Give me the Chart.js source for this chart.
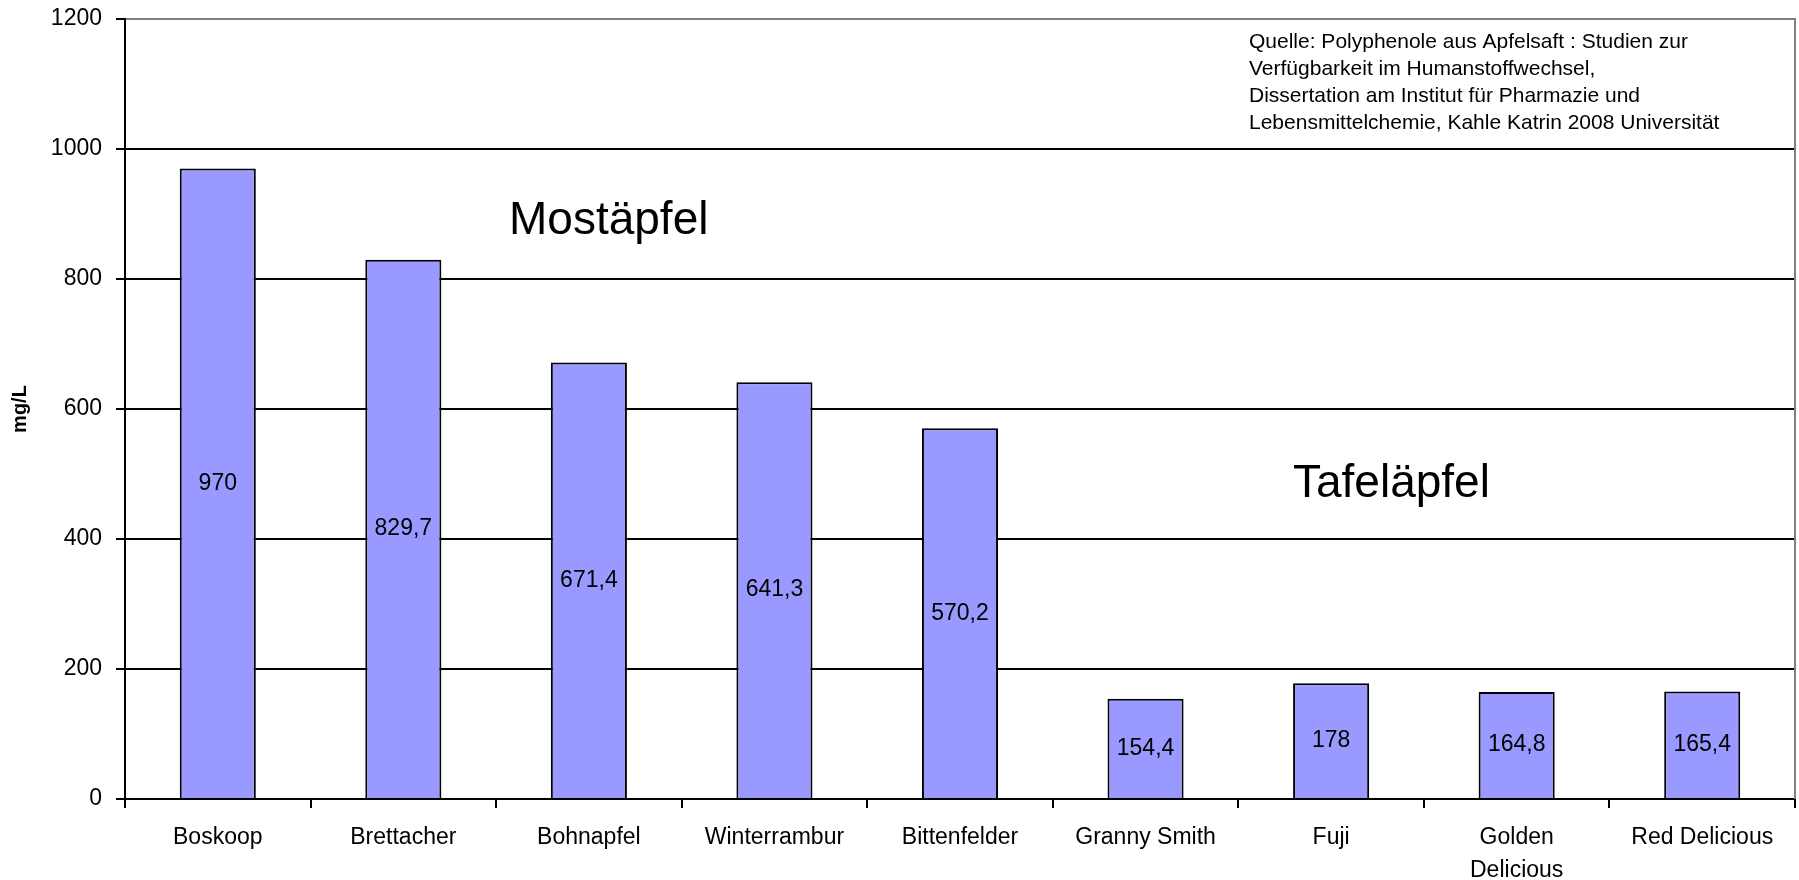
<!DOCTYPE html>
<html>
<head>
<meta charset="utf-8">
<title>Polyphenole in Apfelsorten</title>
<script src="https://cdn.jsdelivr.net/npm/chart.js@4.4.1/dist/chart.umd.min.js"></script>
<style>
    html, body { margin: 0; padding: 0; background: #fff; }
    canvas { display: block; }
</style>
</head>
<body>
<canvas id="myChart" width="1799" height="880"></canvas>
<script>
// Daten
const sorten = ['Boskoop', 'Brettacher', 'Bohnapfel', 'Winterrambur', 'Bittenfelder',
    'Granny Smith', 'Fuji', ['Golden', 'Delicious'], 'Red Delicious'];
const polyphenole = [970, 829.7, 671.4, 641.3, 570.2, 154.4, 178, 164.8, 165.4];
const yTicks = [0, 200, 400, 600, 800, 1000, 1200];
const quelle = [
    'Quelle: Polyphenole aus Apfelsaft : Studien zur',
    'Verfügbarkeit im Humanstoffwechsel,',
    'Dissertation am Institut für Pharmazie und',
    'Lebensmittelchemie, Kahle Katrin 2008 Universität'
];

const FONT = '"Liberation Sans", Arial, sans-serif';

// Werte in die Balken schreiben + Beschriftungen
const beschriftung = {
    id: 'beschriftung',
    afterDraw(chart) {
        const ctx = chart.ctx;
        const area = chart.chartArea;
        ctx.save();

        // rechter Rahmen (grau)
        ctx.strokeStyle = '#808080';
        ctx.lineWidth = 2;
        ctx.beginPath();
        ctx.moveTo(area.right, area.top - 1);
        ctx.lineTo(area.right, area.bottom);
        ctx.stroke();

        // Werte mittig im Balken
        ctx.fillStyle = '#000';
        ctx.font = '23px ' + FONT;
        ctx.textAlign = 'center';
        ctx.textBaseline = 'middle';
        const meta = chart.getDatasetMeta(0);
        meta.data.forEach((bar, i) => {
            const txt = String(polyphenole[i]).replace('.', ',');
            ctx.fillText(txt, bar.x, (bar.y + bar.base) / 2);
        });

        // Gruppen
        ctx.textAlign = 'left';
        ctx.textBaseline = 'alphabetic';
        ctx.font = '46px ' + FONT;
        ctx.fillText('Mostäpfel', 509, 234);
        ctx.fillText('Tafeläpfel', 1293, 497);

        // Quelle
        ctx.font = '21px ' + FONT;
        quelle.forEach((zeile, i) => {
            ctx.fillText(zeile, 1249, 48 + i * 27);
        });
        ctx.restore();
    }
};

const ctx = document.getElementById('myChart').getContext('2d');
const myChart = new Chart(ctx, {
    type: 'bar',
    data: {
        labels: sorten,
        datasets: [{
            label: 'mg/L',
            data: polyphenole,
            backgroundColor: '#9999ff',
            borderColor: '#000',
            borderWidth: 2,
            borderSkipped: 'bottom',
            barPercentage: 0.41,
            categoryPercentage: 1
        }]
    },
    options: {
        responsive: false,
        animation: false,
        devicePixelRatio: 1,
        layout: { padding: { top: 19, right: 4, left: 0, bottom: 0 } },
        plugins: {
            legend: { display: false },
            tooltip: { enabled: false }
        },
        scales: {
            x: {
                offset: true,
                grid: {
                    offset: true,
                    drawOnChartArea: false,
                    color: '#000',
                    tickColor: '#000',
                    lineWidth: 2,
                    tickLength: 9
                },
                border: { color: '#000', width: 2 },
                ticks: {
                    color: '#000',
                    font: { family: FONT, size: 23, lineHeight: 1.4 },
                    padding: 14,
                    maxRotation: 0,
                    autoSkip: false
                },
                afterFit(scale) {
                    scale.height = 81;
                    scale.paddingLeft = 0;
                    scale.paddingRight = 0;
                }
            },
            y: {
                min: 0,
                max: 1200,
                afterBuildTicks(scale) {
                    scale.ticks = yTicks.map(v => ({ value: v }));
                },
                grid: {
                    color: c => (c.tick && c.tick.value === 1200) ? '#808080' : '#000',
                    tickColor: '#000',
                    lineWidth: 2,
                    tickLength: 9
                },
                border: { color: '#000', width: 2 },
                ticks: {
                    color: '#000',
                    font: { family: FONT, size: 23 },
                    padding: 14,
                    callback: v => String(v)
                },
                title: {
                    display: true,
                    text: 'mg/L',
                    color: '#000',
                    font: { family: FONT, size: 20, weight: 'bold' },
                    padding: { top: 8, bottom: 0 }
                },
                afterFit(scale) {
                    scale.width = 125;
                    scale.paddingTop = 0;
                    scale.paddingBottom = 0;
                }
            }
        }
    },
    plugins: [beschriftung]
});
</script>
</body>
</html>
